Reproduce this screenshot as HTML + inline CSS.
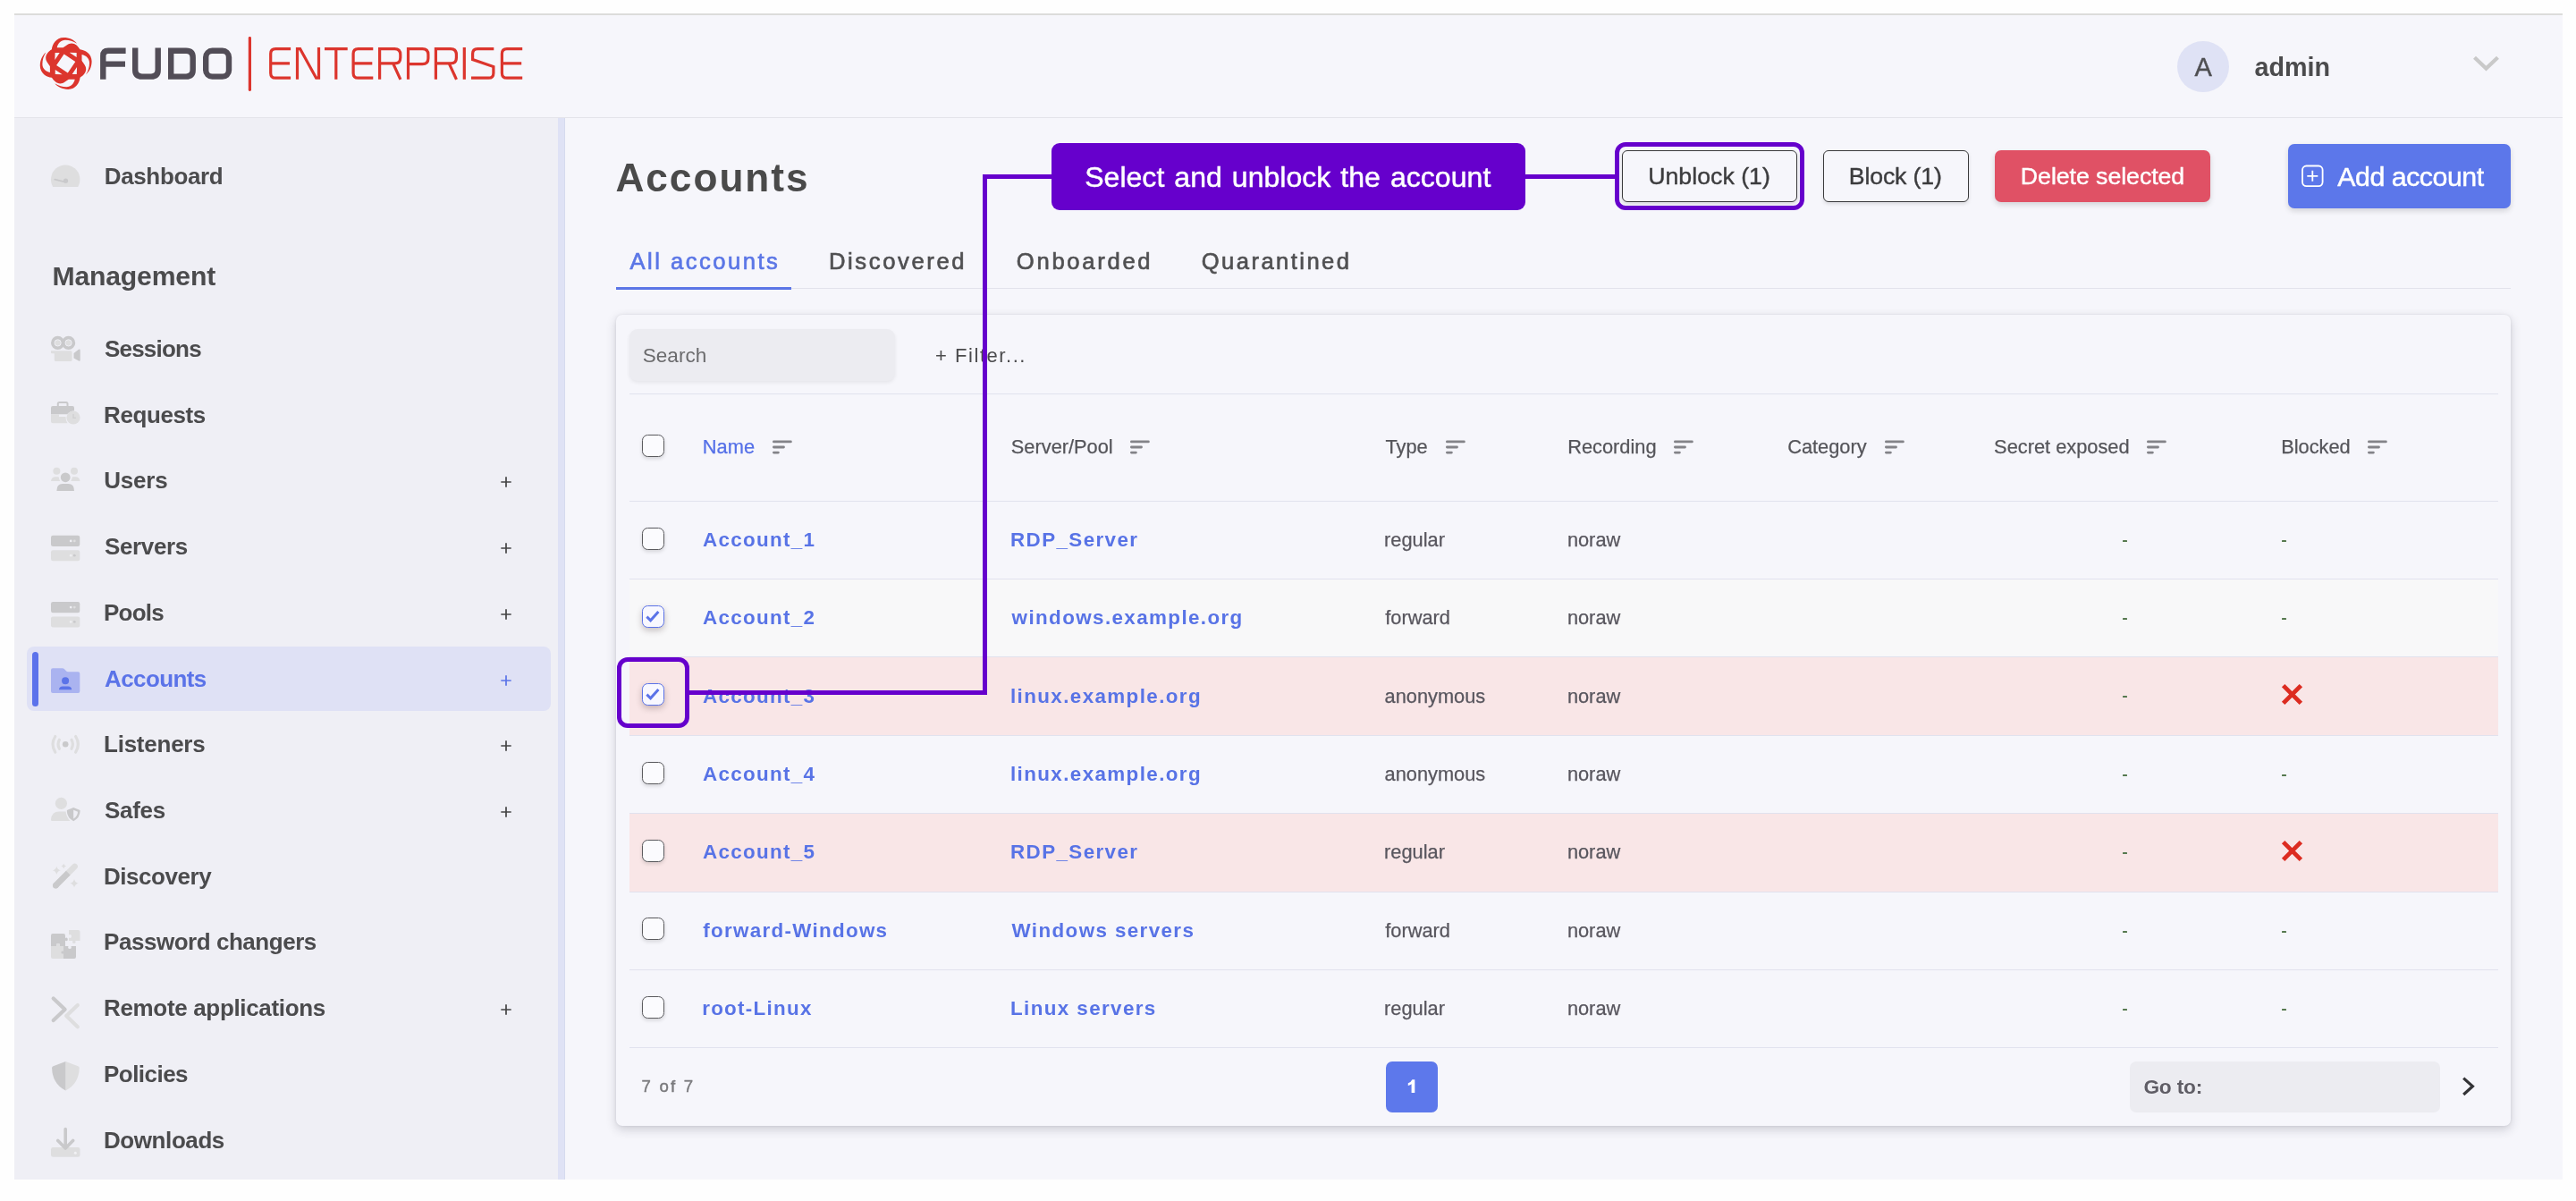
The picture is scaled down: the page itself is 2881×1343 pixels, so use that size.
<!DOCTYPE html>
<html><head><meta charset="utf-8"><title>Accounts</title>
<style>
html,body{margin:0;padding:0;background:#fefefe;}
body{width:2881px;height:1343px;position:relative;overflow:hidden;font-family:"Liberation Sans",sans-serif;}
#root{position:absolute;left:0;top:0;width:2881px;height:1343px;will-change:transform;}
.b{position:absolute;box-sizing:border-box;}
.t{position:absolute;white-space:nowrap;line-height:1;display:block;}
svg{position:absolute;overflow:visible;}
</style></head><body><div id="root">
<div class="b " style="left:16px;top:15px;width:2850px;height:1304px;background:#f6f6fb;"></div>
<div class="b " style="left:16px;top:15px;width:2850px;height:2px;background:#dcdcda;"></div>
<div class="b " style="left:16px;top:131px;width:2850px;height:1px;background:#e4e4ea;"></div>
<div class="b " style="left:16px;top:132px;width:608px;height:1187px;background:#efeff5;"></div>
<div class="b " style="left:624px;top:132px;width:8px;height:1187px;background:#dfe2f5;"></div>
<div class="b " style="left:631px;top:132px;width:1px;height:1187px;background:#d6dbee;"></div>
<svg style="left:0;top:0" width="620" height="132" viewBox="0 0 620 132">
<path d="M57.84,55.26 L63.70,53.20 L70.50,53.20 C73.90,51.40 76.10,48.50 80.00,48.50 C84.30,48.50 87.30,51.80 89.44,55.14 L91.50,61.00 L91.50,67.80 C93.30,71.20 96.20,73.40 96.20,77.30 C96.20,81.60 92.90,84.60 89.56,86.74 L83.70,88.80 L76.90,88.80 C73.50,90.60 71.30,93.50 67.40,93.50 C63.10,93.50 60.10,90.20 57.96,86.86 L55.90,81.00 L55.90,74.20 C54.10,70.80 51.20,68.60 51.20,64.70 C51.20,60.40 54.50,57.40 57.84,55.26 Z M71.60,60.40 L84.30,68.90 L75.80,81.60 L63.10,73.10 Z M61.60,59.05 L66.70,59.05 L61.35,67.00 Z M85.65,58.90 L85.65,64.00 L77.70,58.65 Z M85.80,82.95 L80.70,82.95 L86.05,75.00 Z M61.75,83.10 L61.75,78.00 L69.70,83.35 Z" fill="#dc352d" fill-rule="evenodd"/><path d="M59.10,56.80 L57.84,55.26 C58.50,49.50 62.70,42.10 71.25,42.10 C77.70,42.10 82.90,44.80 86.10,48.70 C81.90,46.00 77.70,44.70 73.00,44.70 C68.10,44.70 64.70,48.40 63.70,53.20 L64.30,54.80 Z" fill="#dc352d"/><path d="M87.90,56.40 L89.44,55.14 C95.20,55.80 102.60,60.00 102.60,68.55 C102.60,75.00 99.90,80.20 96.00,83.40 C98.70,79.20 100.00,75.00 100.00,70.30 C100.00,65.40 96.30,62.00 91.50,61.00 L89.90,61.60 Z" fill="#dc352d"/><path d="M88.30,85.20 L89.56,86.74 C88.90,92.50 84.70,99.90 76.15,99.90 C69.70,99.90 64.50,97.20 61.30,93.30 C65.50,96.00 69.70,97.30 74.40,97.30 C79.30,97.30 82.70,93.60 83.70,88.80 L83.10,87.20 Z" fill="#dc352d"/><path d="M59.50,85.60 L57.96,86.86 C52.20,86.20 44.80,82.00 44.80,73.45 C44.80,67.00 47.50,61.80 51.40,58.60 C48.70,62.80 47.40,67.00 47.40,71.70 C47.40,76.60 51.10,80.00 55.90,81.00 L57.50,80.40 Z" fill="#dc352d"/>
<g fill="none" stroke="#524d57" stroke-width="6.4" stroke-linejoin="round">
 <path d="M115.3,88.8 V62.5 Q115.3,56.8 121,56.8 H140.6 M115.3,71.6 H140"/>
 <path d="M151.2,53.6 V78 Q151.2,85.6 158.8,85.6 H169.1 Q176.7,85.6 176.7,78 V53.6"/>
 <path d="M191.2,56.8 H208.1 Q215.7,56.8 215.7,64.4 V78 Q215.7,85.6 208.1,85.6 H191.2 Z" stroke-linejoin="miter"/>
 <rect x="230.2" y="56.8" width="25.8" height="28.8" rx="7.2"/>
</g>
<rect x="277.8" y="41" width="3.2" height="61" rx="1.4" fill="#dc352d"/>
<g fill="none" stroke="#dc352d" stroke-width="3.2">
 <path d="M325.1,54.6 H308.2 Q302.7,54.6 302.7,60.1 V81.7 Q302.7,87.2 308.2,87.2 H325.1 M302.7,70.9 H324"/>
 <path d="M332.5,88.8 V54.6 H335.6 L353.6,87.2 H356.5 V53"/>
 <path d="M363,54.6 H388.7 M375.8,54.6 V88.8"/>
 <path d="M417.3,54.6 H400.6 Q395.1,54.6 395.1,60.1 V81.7 Q395.1,87.2 400.6,87.2 H417.3 M395.1,70.9 H416.3"/>
 <path d="M424.6,88.8 V54.6 H441.3 Q447.8,54.6 447.8,61.1 V64.4 Q447.8,70.9 441.3,70.9 H424.6 M439.6,70.9 L447.9,88.8"/>
 <path d="M456.5,88.8 V54.6 H472.4 Q478.9,54.6 478.9,61.1 V65.2 Q478.9,71.7 472.4,71.7 H456.5"/>
 <path d="M487.4,88.8 V54.6 H503.9 Q510.4,54.6 510.4,61.1 V64.4 Q510.4,70.9 503.9,70.9 H487.4 M502.2,70.9 L510.5,88.8"/>
 <path d="M519.3,53 V88.8"/>
 <path d="M552.3,54.6 H534.1 Q528.6,54.6 528.6,60.1 V66.6 L551.9,74.6 V81.7 Q551.9,87.2 546.4,87.2 H527"/>
 <path d="M584.2,54.6 H566.9 Q561.4,54.6 561.4,60.1 V81.7 Q561.4,87.2 566.9,87.2 H584.2 M561.4,70.9 H583.2"/>
</g></svg>
<div class="b " style="left:2435px;top:45.6px;width:58px;height:57.6px;background:#dfe2f5;border-radius:29px;"></div>
<span class="t" style="left:2454.50px;top:61.00px;font-size:29px;color:#4f4f52;-webkit-text-stroke:0.4px #4f4f52;">A</span>
<span class="t" style="left:2521.41px;top:61.00px;font-size:28.73px;color:#4b4b4d;font-weight:bold;">admin</span>
<svg style="left:2760px;top:58px" width="40" height="28" viewBox="2760 58 40 28"><path d="M2767.5,64.3 L2780.5,76.6 L2793.5,64.3" fill="none" stroke="#c9c9c9" stroke-width="4.2"/></svg>
<div class="b " style="left:30px;top:723px;width:586px;height:72px;background:#dfe1f5;border-radius:8px;"></div>
<div class="b " style="left:36px;top:729px;width:6.5px;height:61px;background:#5b72eb;border-radius:3.5px;"></div>
<span class="t" style="left:116.71px;top:184.00px;font-size:26px;color:#4b4b4d;font-weight:bold;letter-spacing:-0.351px;">Dashboard</span>
<span class="t" style="left:58.44px;top:294.00px;font-size:30.2px;color:#4b4b4d;font-weight:bold;letter-spacing:-0.193px;">Management</span>
<span class="t" style="left:116.98px;top:377.00px;font-size:26px;color:#4b4b4d;font-weight:bold;letter-spacing:-0.793px;">Sessions</span>
<span class="t" style="left:116.01px;top:451.00px;font-size:26px;color:#4b4b4d;font-weight:bold;letter-spacing:-0.391px;">Requests</span>
<span class="t" style="left:116.14px;top:524.00px;font-size:26px;color:#4b4b4d;font-weight:bold;letter-spacing:-0.17px;">Users</span>
<svg style="left:555px;top:528.7px" width="22" height="20" viewBox="0 0 22 20"><path d="M5.3,10 H16.7 M11,4.3 V15.7" stroke="#444" stroke-width="1.7" fill="none"/></svg>
<span class="t" style="left:116.98px;top:598.00px;font-size:26px;color:#4b4b4d;font-weight:bold;letter-spacing:-0.355px;">Servers</span>
<svg style="left:555px;top:602.7px" width="22" height="20" viewBox="0 0 22 20"><path d="M5.3,10 H16.7 M11,4.3 V15.7" stroke="#444" stroke-width="1.7" fill="none"/></svg>
<span class="t" style="left:116.01px;top:672.00px;font-size:26px;color:#4b4b4d;font-weight:bold;letter-spacing:-0.78px;">Pools</span>
<svg style="left:555px;top:676.7px" width="22" height="20" viewBox="0 0 22 20"><path d="M5.3,10 H16.7 M11,4.3 V15.7" stroke="#444" stroke-width="1.7" fill="none"/></svg>
<span class="t" style="left:117.05px;top:746.00px;font-size:26px;color:#5b73e8;font-weight:bold;letter-spacing:-0.601px;">Accounts</span>
<svg style="left:555px;top:750.7px" width="22" height="20" viewBox="0 0 22 20"><path d="M5.3,10 H16.7 M11,4.3 V15.7" stroke="#5b73e8" stroke-width="1.7" fill="none"/></svg>
<span class="t" style="left:116.01px;top:819.00px;font-size:26px;color:#4b4b4d;font-weight:bold;letter-spacing:-0.238px;">Listeners</span>
<svg style="left:555px;top:823.7px" width="22" height="20" viewBox="0 0 22 20"><path d="M5.3,10 H16.7 M11,4.3 V15.7" stroke="#444" stroke-width="1.7" fill="none"/></svg>
<span class="t" style="left:116.98px;top:893.00px;font-size:26px;color:#4b4b4d;font-weight:bold;letter-spacing:-0.291px;">Safes</span>
<svg style="left:555px;top:897.7px" width="22" height="20" viewBox="0 0 22 20"><path d="M5.3,10 H16.7 M11,4.3 V15.7" stroke="#444" stroke-width="1.7" fill="none"/></svg>
<span class="t" style="left:116.01px;top:967.00px;font-size:26px;color:#4b4b4d;font-weight:bold;letter-spacing:-0.453px;">Discovery</span>
<span class="t" style="left:116.01px;top:1040.00px;font-size:26px;color:#4b4b4d;font-weight:bold;letter-spacing:-0.461px;">Password changers</span>
<span class="t" style="left:116.01px;top:1114.00px;font-size:26px;color:#4b4b4d;font-weight:bold;letter-spacing:-0.334px;">Remote applications</span>
<svg style="left:555px;top:1118.7px" width="22" height="20" viewBox="0 0 22 20"><path d="M5.3,10 H16.7 M11,4.3 V15.7" stroke="#444" stroke-width="1.7" fill="none"/></svg>
<span class="t" style="left:116.01px;top:1188.00px;font-size:26px;color:#4b4b4d;font-weight:bold;letter-spacing:-0.531px;">Policies</span>
<span class="t" style="left:116.01px;top:1262.00px;font-size:26px;color:#4b4b4d;font-weight:bold;letter-spacing:-0.422px;">Downloads</span>
<svg style="left:0;top:132px" width="624" height="1187" viewBox="0 132 624 1187"><path d="M59.2,208.9 A16.2,16.2 0 1 1 87.2,208.9 Z" fill="#dededf"/><circle cx="73.5" cy="202.2" r="2.6" fill="#c9c9cb"/><path d="M61.2,200.6 L73.5,203.6" stroke="#c9c9cb" stroke-width="1.7" stroke-linecap="round"/><circle cx="64.6" cy="383.4" r="7.6" fill="#c9c9cb"/><circle cx="76.6" cy="383.4" r="7.6" fill="#c9c9cb"/><circle cx="64.6" cy="383.4" r="3.6" fill="#dededf" stroke="#efeff5" stroke-width="1"/><circle cx="76.6" cy="383.4" r="3.6" fill="#dededf" stroke="#efeff5" stroke-width="1"/><path d="M57,392.3 H79 Q80.6,392.3 80.6,393.9 V402.4 Q80.6,404 79,404 H62.4 Q60.8,404 60.8,402.4 V395.3 H58 Q57,395.3 57,394.3 Z" fill="#dededf"/><path d="M82.5,395 L88,390.8 Q89.7,390 89.7,392 V402.5 Q89.7,404.4 88,403.6 L82.5,400.5 Z" fill="#c9c9cb"/><path d="M64.8,454.5 V451.5 Q64.8,450 66.3,450 H74 Q75.5,450 75.5,451.5 V454.5" fill="none" stroke="#c9c9cb" stroke-width="2"/><path d="M57,456 Q57,454 59,454 H81 Q83,454 83,456 V459.5 Q78,459.6 75.2,463.3 H57 Z" fill="#c9c9cb"/><path d="M57,463.3 H66 V466 H73.5 Q73.4,470 75.5,473.2 H59 Q57,473.2 57,471.2 Z" fill="#dededf"/><circle cx="82" cy="467" r="7.6" fill="#dededf"/><path d="M82,463 V467.3 H85" fill="none" stroke="#c9c9cb" stroke-width="1.3" opacity=".7"/><circle cx="63.4" cy="526.7" r="4" fill="#dededf"/><circle cx="83" cy="526.7" r="4" fill="#dededf"/><path d="M57,538 Q57.5,533.2 62,533.2 H65.5 Q66,535.5 67.3,538 Z" fill="#dededf"/><path d="M89.5,538 Q89,533.2 84.5,533.2 H81 Q80.5,535.5 79.2,538 Z" fill="#dededf"/><circle cx="73.2" cy="533.8" r="5.4" fill="#c9c9cb"/><path d="M63.4,548.8 Q63.4,541 70,541 H76.4 Q83,541 83,548.8 Q83,549 82,549 H64.4 Q63.4,549 63.4,548.8 Z" fill="#c9c9cb"/><rect x="57" y="598.8" width="32.3" height="12.2" rx="2.2" fill="#c9c9cb"/><rect x="57" y="615.1999999999999" width="32.3" height="12" rx="2.2" fill="#dededf"/><circle cx="79.2" cy="604.9" r="1.4" fill="#efeff3"/><circle cx="83.3" cy="604.9" r="1.4" fill="#dededf"/><circle cx="79.2" cy="621.1999999999999" r="1.4" fill="#eeeef1"/><circle cx="83.3" cy="621.1999999999999" r="1.4" fill="#c9c9cb"/><rect x="57" y="673" width="32.3" height="12.2" rx="2.2" fill="#c9c9cb"/><rect x="57" y="689.4" width="32.3" height="12" rx="2.2" fill="#dededf"/><circle cx="79.2" cy="679.1" r="1.4" fill="#efeff3"/><circle cx="83.3" cy="679.1" r="1.4" fill="#dededf"/><circle cx="79.2" cy="695.4" r="1.4" fill="#eeeef1"/><circle cx="83.3" cy="695.4" r="1.4" fill="#c9c9cb"/><path d="M57,749.2 Q57,747.2 59,747.2 H70 Q71,747.2 71.8,748 L74.2,750.4 Q75,751.2 76,751.2 H87.3 Q89.3,751.2 89.3,753.2 V773 Q89.3,775 87.3,775 H59 Q57,775 57,773 Z" fill="#aab3f0"/><circle cx="73.1" cy="761.2" r="4" fill="#5b73e8"/><path d="M66,771.2 Q66.3,767.6 70,767.6 H76.2 Q79.9,767.6 80.2,771.2 Z" fill="#5b73e8"/><circle cx="73.2" cy="832.3" r="3.3" fill="#c9c9cb"/><g fill="none" stroke="#dededf" stroke-width="3.2" stroke-linecap="round"><path d="M66.4,827.3 Q63.6,832.3 66.4,837.3"/><path d="M80,827.3 Q82.8,832.3 80,837.3"/><path d="M61.8,823.5 Q56.2,832.3 61.8,841.2"/><path d="M84.6,823.5 Q90.2,832.3 84.6,841.2"/></g><circle cx="68.4" cy="898.4" r="6.6" fill="#dededf"/><path d="M57,916.5 Q57.8,907.6 66,907.6 H73.6 Q74,913.5 78.5,918 H58.3 Q57,918 57,916.5 Z" fill="#dededf"/><path d="M82.2,903 L89,905.7 Q89.6,906 89.6,906.8 Q89.4,914.6 82.2,918.2 Q75,914.6 74.8,906.8 Q74.8,906 75.4,905.7 Z" fill="#c9c9cb"/><path d="M82.2,905.8 L87,907.7 Q86.8,912.6 82.2,915.4 Z" fill="#efeff5"/><path d="M62.3,990.2 L83.6,968.9" stroke="#dededf" stroke-width="6.6" stroke-linecap="round"/><path d="M62.3,990.2 L76.3,976.2" stroke="#c9c9cb" stroke-width="6.6" stroke-linecap="butt"/><circle cx="62.3" cy="990.2" r="3.3" fill="#c9c9cb"/><path d="M63.3,968.6999999999999 Q64.128,972.472 67.89999999999999,973.3 Q64.128,974.1279999999999 63.3,977.9 Q62.471999999999994,974.1279999999999 58.699999999999996,973.3 Q62.471999999999994,972.472 63.3,968.6999999999999 Z" fill="#dededf"/><path d="M71.2,965.8000000000001 Q71.70400000000001,968.096 74.0,968.6 Q71.70400000000001,969.104 71.2,971.4 Q70.696,969.104 68.4,968.6 Q70.696,968.096 71.2,965.8000000000001 Z" fill="#dededf"/><path d="M83,983.0 Q83.864,986.9359999999999 87.8,987.8 Q83.864,988.664 83,992.5999999999999 Q82.136,988.664 78.2,987.8 Q82.136,986.9359999999999 83,983.0 Z" fill="#dededf"/><path d="M59,1044 H71 Q73,1044 73,1046 V1049 Q75.5,1047.6 75.8,1050.4 Q75.5,1053.2 73,1051.8 V1058 H66.5 Q67.8,1055.2 65,1055 Q62.2,1055.2 63.5,1058 H57 V1046 Q57,1044 59,1044 Z" fill="#c9c9cb"/><path d="M57,1058 H63.5 Q62.2,1055.2 65,1055 Q67.8,1055.2 66.5,1058 H71 V1063.5 Q68.4,1062.4 68.2,1065 Q68.4,1067.6 71,1066.5 V1072 H59 Q57,1072 57,1070 Z" fill="#dededf"/><path d="M73,1058 H76.5 Q75.4,1060.8 78,1061 Q80.6,1060.8 79.5,1058 H85 V1070 Q85,1072 83,1072 H71 V1066.5 Q68.4,1067.6 68.2,1065 Q68.4,1062.4 71,1063.5 V1058 Z" fill="#c9c9cb"/><path d="M77,1040 H87.5 Q89.5,1040 89.5,1042 V1052 H84.2 Q85.4,1054.8 82.8,1055 Q80.2,1054.8 81.4,1052 H77 V1048.6 Q79.8,1049.8 80,1047 Q79.8,1044.4 77,1045.4 Z" fill="#dededf"/><path d="M59.7,1116.5 L72.6,1128.8 L59.7,1141" fill="none" stroke="#c9c9cb" stroke-width="4.2" stroke-linecap="round" stroke-linejoin="round"/><path d="M86.8,1124 L74.2,1136 L86.8,1148.3" fill="none" stroke="#dededf" stroke-width="4.2" stroke-linecap="round" stroke-linejoin="round"/><path d="M73.4,1187 L87.3,1192.2 Q88.7,1192.8 88.7,1194.3 Q88.3,1212 73.4,1219.6 Z" fill="#dededf"/><path d="M73.4,1187 L59.5,1192.2 Q58.1,1192.8 58.1,1194.3 Q58.5,1212 73.4,1219.6 Z" fill="#c9c9cb"/><rect x="57" y="1283" width="32.5" height="10.8" rx="2.4" fill="#dededf"/><circle cx="84.3" cy="1289.2" r="1.5" fill="#f2f2f5"/><path d="M73.2,1262.5 V1284 M64.8,1275.4 L73.2,1284 L81.6,1275.4" fill="none" stroke="#c9c9cb" stroke-width="3.6" stroke-linecap="round" stroke-linejoin="round"/></svg>
<span class="t" style="left:688.39px;top:177.00px;font-size:44.2px;color:#4a4a4a;font-weight:bold;letter-spacing:1.99px;">Accounts</span>
<span class="t" style="left:704.50px;top:280.00px;font-size:25.6px;color:#5b76e6;letter-spacing:2.486px;-webkit-text-stroke:0.65px #5b76e6;">All accounts</span>
<span class="t" style="left:926.95px;top:280.00px;font-size:25.6px;color:#505052;letter-spacing:2.628px;-webkit-text-stroke:0.65px #505052;">Discovered</span>
<span class="t" style="left:1136.85px;top:280.00px;font-size:25.6px;color:#505052;letter-spacing:2.711px;-webkit-text-stroke:0.65px #505052;">Onboarded</span>
<span class="t" style="left:1343.75px;top:280.00px;font-size:25.6px;color:#505052;letter-spacing:2.439px;-webkit-text-stroke:0.65px #505052;">Quarantined</span>
<div class="b " style="left:689px;top:322px;width:2119px;height:1px;background:#e2e2ec;"></div>
<div class="b " style="left:689px;top:320.5px;width:196px;height:3.5px;background:#5b76e6;"></div>
<div class="b " style="left:1814px;top:168px;width:196px;height:58px;background:#f6f6fb;border-radius:6px;border:1.5px solid #3a3a3c;box-shadow:0 2px 4px rgba(0,0,0,.12);"></div>
<span class="t" style="left:1843.20px;top:184.00px;font-size:26.7px;color:#3c3c3e;letter-spacing:0.02px;-webkit-text-stroke:0.4px #3c3c3e;">Unblock (1)</span>
<div class="b " style="left:2039px;top:168px;width:163px;height:58px;background:#f6f6fb;border-radius:6px;border:1.5px solid #3a3a3c;box-shadow:0 2px 4px rgba(0,0,0,.12);"></div>
<span class="t" style="left:2067.76px;top:184.00px;font-size:26.7px;color:#3c3c3e;letter-spacing:-0.137px;-webkit-text-stroke:0.4px #3c3c3e;">Block (1)</span>
<div class="b " style="left:2231px;top:168px;width:241px;height:58px;background:#e05165;border-radius:7px;box-shadow:0 3px 6px rgba(0,0,0,.14);"></div>
<span class="t" style="left:2259.86px;top:184.00px;font-size:26.7px;color:#fff;letter-spacing:-0.045px;-webkit-text-stroke:0.4px #fff;">Delete selected</span>
<div class="b " style="left:2559px;top:161px;width:249px;height:72px;background:#5c77ea;border-radius:7px;box-shadow:0 3px 6px rgba(0,0,0,.14);"></div>
<span class="t" style="left:2614.30px;top:183.00px;font-size:30.3px;color:#fff;letter-spacing:-0.462px;-webkit-text-stroke:0.5px #fff;">Add account</span>
<svg style="left:2570px;top:180px" width="34" height="34" viewBox="2570 180 34 34"><rect x="2575" y="185.5" width="22.6" height="22.6" rx="4.5" fill="none" stroke="#fff" stroke-width="1.8"/><path d="M2580.3,196.8 H2592.3 M2586.3,190.8 V202.8" stroke="#fff" stroke-width="1.8"/></svg>
<div class="b " style="left:689px;top:352px;width:2119px;height:907px;background:#f6f6fb;border-radius:7px;box-shadow:0 4px 12px rgba(40,40,60,.20),0 0 3px rgba(40,40,60,.10);"></div>
<div class="b " style="left:704px;top:368px;width:296.5px;height:58px;background:#ececf1;border-radius:9px;box-shadow:0 2px 4px rgba(0,0,0,.07);"></div>
<span class="t" style="left:718.79px;top:387.00px;font-size:22.55px;color:#6b6b6d;">Search</span>
<span class="t" style="left:1045.95px;top:387.00px;font-size:22px;color:#4a4a4c;letter-spacing:1.555px;">+ Filter...</span>
<div class="b " style="left:704px;top:440px;width:2090px;height:1px;background:#e1e2ee;"></div>
<div class="b " style="left:704px;top:648px;width:2090px;height:86px;background:#f8f8f9;"></div>
<div class="b " style="left:704px;top:735px;width:2090px;height:87px;background:#f9e6e7;"></div>
<div class="b " style="left:704px;top:910px;width:2090px;height:87px;background:#f9e6e7;"></div>
<div class="b " style="left:704px;top:560px;width:2090px;height:1px;background:#e1e2ee;"></div>
<div class="b " style="left:704px;top:647px;width:2090px;height:1px;background:#e1e2ee;"></div>
<div class="b " style="left:704px;top:734px;width:2090px;height:1px;background:#e1e2ee;"></div>
<div class="b " style="left:704px;top:822px;width:2090px;height:1px;background:#e1e2ee;"></div>
<div class="b " style="left:704px;top:909px;width:2090px;height:1px;background:#e1e2ee;"></div>
<div class="b " style="left:704px;top:997px;width:2090px;height:1px;background:#e1e2ee;"></div>
<div class="b " style="left:704px;top:1084px;width:2090px;height:1px;background:#e1e2ee;"></div>
<div class="b " style="left:704px;top:1171px;width:2090px;height:1px;background:#e1e2ee;"></div>
<span class="t" style="left:785.86px;top:489.00px;font-size:21.8px;color:#5570e8;-webkit-text-stroke:0.25px #5570e8;">Name</span>
<svg style="left:863.88px;top:489.6px" width="24" height="20" viewBox="0 0 24 20"><path d="M1.4,3.9 H20.4 M1.4,10 H12.5 M1.4,16.1 H6.4" stroke="#838388" stroke-width="2.8" stroke-linecap="round" fill="none"/></svg>
<span class="t" style="left:1130.82px;top:489.00px;font-size:21.8px;color:#55555a;-webkit-text-stroke:0.25px #55555a;">Server/Pool</span>
<svg style="left:1264.11px;top:489.6px" width="24" height="20" viewBox="0 0 24 20"><path d="M1.4,3.9 H20.4 M1.4,10 H12.5 M1.4,16.1 H6.4" stroke="#838388" stroke-width="2.8" stroke-linecap="round" fill="none"/></svg>
<span class="t" style="left:1549.46px;top:489.00px;font-size:21.8px;color:#55555a;-webkit-text-stroke:0.25px #55555a;">Type</span>
<svg style="left:1616.59px;top:489.6px" width="24" height="20" viewBox="0 0 24 20"><path d="M1.4,3.9 H20.4 M1.4,10 H12.5 M1.4,16.1 H6.4" stroke="#838388" stroke-width="2.8" stroke-linecap="round" fill="none"/></svg>
<span class="t" style="left:1753.16px;top:489.00px;font-size:21.8px;color:#55555a;-webkit-text-stroke:0.25px #55555a;">Recording</span>
<svg style="left:1871.95px;top:489.6px" width="24" height="20" viewBox="0 0 24 20"><path d="M1.4,3.9 H20.4 M1.4,10 H12.5 M1.4,16.1 H6.4" stroke="#838388" stroke-width="2.8" stroke-linecap="round" fill="none"/></svg>
<span class="t" style="left:1999.21px;top:489.00px;font-size:21.8px;color:#55555a;-webkit-text-stroke:0.25px #55555a;">Category</span>
<svg style="left:2108.46px;top:489.6px" width="24" height="20" viewBox="0 0 24 20"><path d="M1.4,3.9 H20.4 M1.4,10 H12.5 M1.4,16.1 H6.4" stroke="#838388" stroke-width="2.8" stroke-linecap="round" fill="none"/></svg>
<span class="t" style="left:2230.12px;top:489.00px;font-size:21.8px;color:#55555a;-webkit-text-stroke:0.25px #55555a;">Secret exposed</span>
<svg style="left:2401.01px;top:489.6px" width="24" height="20" viewBox="0 0 24 20"><path d="M1.4,3.9 H20.4 M1.4,10 H12.5 M1.4,16.1 H6.4" stroke="#838388" stroke-width="2.8" stroke-linecap="round" fill="none"/></svg>
<span class="t" style="left:2551.16px;top:489.00px;font-size:21.8px;color:#55555a;-webkit-text-stroke:0.25px #55555a;">Blocked</span>
<svg style="left:2648.15px;top:489.6px" width="24" height="20" viewBox="0 0 24 20"><path d="M1.4,3.9 H20.4 M1.4,10 H12.5 M1.4,16.1 H6.4" stroke="#838388" stroke-width="2.8" stroke-linecap="round" fill="none"/></svg>
<div class="b " style="left:718px;top:486.0px;width:25px;height:25.0px;background:#fbfbfe;border-radius:6.5px;border:1.5px solid #5a5a5e;box-shadow:0 2px 4px rgba(0,0,0,.14);"></div>
<div class="b " style="left:718px;top:589.5px;width:25px;height:25.0px;background:#fbfbfe;border-radius:6.5px;border:1.5px solid #5a5a5e;box-shadow:0 2px 4px rgba(0,0,0,.14);"></div>
<span class="t" style="left:786.04px;top:593.00px;font-size:22.4px;color:#5873e6;font-weight:bold;letter-spacing:1.3px;">Account_1</span>
<span class="t" style="left:1130.04px;top:593.00px;font-size:22.4px;color:#5873e6;font-weight:bold;letter-spacing:1.39px;">RDP_Server</span>
<span class="t" style="left:1548.08px;top:593.00px;font-size:21.8px;color:#58565e;-webkit-text-stroke:0.25px #58565e;">regular</span>
<span class="t" style="left:1752.88px;top:593.00px;font-size:21.8px;color:#58565e;-webkit-text-stroke:0.25px #58565e;">noraw</span>
<div class="b " style="left:2374px;top:604px;width:5.300000000000182px;height:2px;background:#56794f;border-radius:0.5px;"></div>
<div class="b " style="left:2552.2px;top:604px;width:5.300000000000182px;height:2px;background:#56794f;border-radius:0.5px;"></div>
<div class="b " style="left:718px;top:676.5px;width:25px;height:25.0px;background:#f8f8ff;border-radius:6.5px;border:1.5px solid #5b73e8;box-shadow:0 3px 7px rgba(60,40,40,.28);"></div>
<svg style="left:718px;top:676.5px" width="25" height="25" viewBox="0 0 25 25"><path d="M5.4,12.6 L9.6,16.8 L18.4,6.9" fill="none" stroke="#5b73e8" stroke-width="3"/></svg>
<span class="t" style="left:786.04px;top:680.00px;font-size:22.4px;color:#5873e6;font-weight:bold;letter-spacing:1.3px;">Account_2</span>
<span class="t" style="left:1131.61px;top:680.00px;font-size:22.4px;color:#5873e6;font-weight:bold;letter-spacing:1.39px;">windows.example.org</span>
<span class="t" style="left:1549.23px;top:680.00px;font-size:21.8px;color:#58565e;-webkit-text-stroke:0.25px #58565e;">forward</span>
<span class="t" style="left:1752.88px;top:680.00px;font-size:21.8px;color:#58565e;-webkit-text-stroke:0.25px #58565e;">noraw</span>
<div class="b " style="left:2374px;top:691px;width:5.300000000000182px;height:2px;background:#56794f;border-radius:0.5px;"></div>
<div class="b " style="left:2552.2px;top:691px;width:5.300000000000182px;height:2px;background:#56794f;border-radius:0.5px;"></div>
<div class="b " style="left:718px;top:764.0px;width:25px;height:25.0px;background:#f8f8ff;border-radius:6.5px;border:1.5px solid #5b73e8;box-shadow:0 3px 7px rgba(60,40,40,.28);"></div>
<svg style="left:718px;top:764.0px" width="25" height="25" viewBox="0 0 25 25"><path d="M5.4,12.6 L9.6,16.8 L18.4,6.9" fill="none" stroke="#5b73e8" stroke-width="3"/></svg>
<span class="t" style="left:786.04px;top:768.00px;font-size:22.4px;color:#5873e6;font-weight:bold;letter-spacing:1.3px;">Account_3</span>
<span class="t" style="left:1129.99px;top:768.00px;font-size:22.4px;color:#5873e6;font-weight:bold;letter-spacing:1.39px;">linux.example.org</span>
<span class="t" style="left:1548.57px;top:768.00px;font-size:21.8px;color:#58565e;-webkit-text-stroke:0.25px #58565e;">anonymous</span>
<span class="t" style="left:1752.88px;top:768.00px;font-size:21.8px;color:#58565e;-webkit-text-stroke:0.25px #58565e;">noraw</span>
<div class="b " style="left:2374px;top:778px;width:5.300000000000182px;height:2px;background:#56794f;border-radius:0.5px;"></div>
<svg style="left:2550px;top:763.0px" width="27" height="27" viewBox="-13.5 -13.5 27 27"><path d="M-9.87,-9.87 L9.87,9.87 M9.87,-9.87 L-9.87,9.87" stroke="#dc2c21" stroke-width="4.9" fill="none"/></svg>
<div class="b " style="left:718px;top:851.5px;width:25px;height:25.0px;background:#fbfbfe;border-radius:6.5px;border:1.5px solid #5a5a5e;box-shadow:0 2px 4px rgba(0,0,0,.14);"></div>
<span class="t" style="left:786.04px;top:855.00px;font-size:22.4px;color:#5873e6;font-weight:bold;letter-spacing:1.3px;">Account_4</span>
<span class="t" style="left:1129.99px;top:855.00px;font-size:22.4px;color:#5873e6;font-weight:bold;letter-spacing:1.39px;">linux.example.org</span>
<span class="t" style="left:1548.57px;top:855.00px;font-size:21.8px;color:#58565e;-webkit-text-stroke:0.25px #58565e;">anonymous</span>
<span class="t" style="left:1752.88px;top:855.00px;font-size:21.8px;color:#58565e;-webkit-text-stroke:0.25px #58565e;">noraw</span>
<div class="b " style="left:2374px;top:866px;width:5.300000000000182px;height:2px;background:#56794f;border-radius:0.5px;"></div>
<div class="b " style="left:2552.2px;top:866px;width:5.300000000000182px;height:2px;background:#56794f;border-radius:0.5px;"></div>
<div class="b " style="left:718px;top:938.8px;width:25px;height:25.0px;background:#fbfbfe;border-radius:6.5px;border:1.5px solid #5a5a5e;box-shadow:0 2px 4px rgba(0,0,0,.14);"></div>
<span class="t" style="left:786.04px;top:942.00px;font-size:22.4px;color:#5873e6;font-weight:bold;letter-spacing:1.3px;">Account_5</span>
<span class="t" style="left:1130.04px;top:942.00px;font-size:22.4px;color:#5873e6;font-weight:bold;letter-spacing:1.39px;">RDP_Server</span>
<span class="t" style="left:1548.08px;top:942.00px;font-size:21.8px;color:#58565e;-webkit-text-stroke:0.25px #58565e;">regular</span>
<span class="t" style="left:1752.88px;top:942.00px;font-size:21.8px;color:#58565e;-webkit-text-stroke:0.25px #58565e;">noraw</span>
<div class="b " style="left:2374px;top:953px;width:5.300000000000182px;height:2px;background:#56794f;border-radius:0.5px;"></div>
<svg style="left:2550px;top:937.8px" width="27" height="27" viewBox="-13.5 -13.5 27 27"><path d="M-9.87,-9.87 L9.87,9.87 M9.87,-9.87 L-9.87,9.87" stroke="#dc2c21" stroke-width="4.9" fill="none"/></svg>
<div class="b " style="left:718px;top:1026.2px;width:25px;height:25.0px;background:#fbfbfe;border-radius:6.5px;border:1.5px solid #5a5a5e;box-shadow:0 2px 4px rgba(0,0,0,.14);"></div>
<span class="t" style="left:786.26px;top:1030.00px;font-size:22.4px;color:#5873e6;font-weight:bold;letter-spacing:1.3px;">forward-Windows</span>
<span class="t" style="left:1131.50px;top:1030.00px;font-size:22.4px;color:#5873e6;font-weight:bold;letter-spacing:1.39px;">Windows servers</span>
<span class="t" style="left:1549.23px;top:1030.00px;font-size:21.8px;color:#58565e;-webkit-text-stroke:0.25px #58565e;">forward</span>
<span class="t" style="left:1752.88px;top:1030.00px;font-size:21.8px;color:#58565e;-webkit-text-stroke:0.25px #58565e;">noraw</span>
<div class="b " style="left:2374px;top:1041px;width:5.300000000000182px;height:2px;background:#56794f;border-radius:0.5px;"></div>
<div class="b " style="left:2552.2px;top:1041px;width:5.300000000000182px;height:2px;background:#56794f;border-radius:0.5px;"></div>
<div class="b " style="left:718px;top:1113.5px;width:25px;height:25.0px;background:#fbfbfe;border-radius:6.5px;border:1.5px solid #5a5a5e;box-shadow:0 2px 4px rgba(0,0,0,.14);"></div>
<span class="t" style="left:785.14px;top:1117.00px;font-size:22.4px;color:#5873e6;font-weight:bold;letter-spacing:1.3px;">root-Linux</span>
<span class="t" style="left:1130.04px;top:1117.00px;font-size:22.4px;color:#5873e6;font-weight:bold;letter-spacing:1.39px;">Linux servers</span>
<span class="t" style="left:1548.08px;top:1117.00px;font-size:21.8px;color:#58565e;-webkit-text-stroke:0.25px #58565e;">regular</span>
<span class="t" style="left:1752.88px;top:1117.00px;font-size:21.8px;color:#58565e;-webkit-text-stroke:0.25px #58565e;">noraw</span>
<div class="b " style="left:2374px;top:1128px;width:5.300000000000182px;height:2px;background:#56794f;border-radius:0.5px;"></div>
<div class="b " style="left:2552.2px;top:1128px;width:5.300000000000182px;height:2px;background:#56794f;border-radius:0.5px;"></div>
<span class="t" style="left:717.47px;top:1206.00px;font-size:18.6px;color:#7a7a7d;letter-spacing:2.223px;-webkit-text-stroke:0.45px #7a7a7d;">7 of 7</span>
<div class="b " style="left:1549.9px;top:1187px;width:58.19999999999982px;height:57px;background:#5d78eb;border-radius:7px;"></div>
<svg style="left:1570px;top:1203px" width="18" height="24" viewBox="1570 1203 18 24"><path d="M1582.3,1207.3 H1579.4 Q1578.2,1210.2 1574.8,1211.2 V1214 Q1577.2,1213.5 1578.6,1212.3 V1222.1 H1582.3 Z" fill="#fff"/></svg>
<div class="b " style="left:2382.2px;top:1187.3px;width:346.8000000000002px;height:56.5px;background:#ececf1;border-radius:7px;"></div>
<span class="t" style="left:2397.39px;top:1204.00px;font-size:22.7px;color:#5f5d65;font-weight:bold;letter-spacing:-0.166px;">Go to:</span>
<svg style="left:2748px;top:1200px" width="28" height="30" viewBox="2748 1200 28 30"><path d="M2755.2,1205.6 L2765.4,1214.8 L2755.2,1224" fill="none" stroke="#333336" stroke-width="3.2"/></svg>
<div class="b " style="left:1175.5px;top:160px;width:530.5px;height:75px;background:#6600cc;border-radius:9px;"></div>
<span class="t" style="left:1213.16px;top:182.00px;font-size:32.1px;color:#fff;-webkit-text-stroke:0.45px #fff;word-spacing:2.074px;">Select and unblock the account</span>
<div class="b " style="left:1099px;top:195px;width:77px;height:5px;background:#6600cc;"></div>
<div class="b " style="left:1099px;top:195px;width:5px;height:581.6px;background:#6600cc;"></div>
<div class="b " style="left:770px;top:771.8px;width:334px;height:4.800000000000068px;background:#6600cc;"></div>
<div class="b " style="left:1705px;top:195px;width:102px;height:5px;background:#6600cc;"></div>
<div class="b " style="left:1806.3px;top:159px;width:211.4000000000001px;height:75.80000000000001px;background:transparent;border-radius:12px;border:5px solid #6600cc;"></div>
<div class="b " style="left:690.3px;top:735px;width:80.70000000000005px;height:78.79999999999995px;background:transparent;border-radius:12px;border:5px solid #6600cc;"></div>
</div></body></html>
